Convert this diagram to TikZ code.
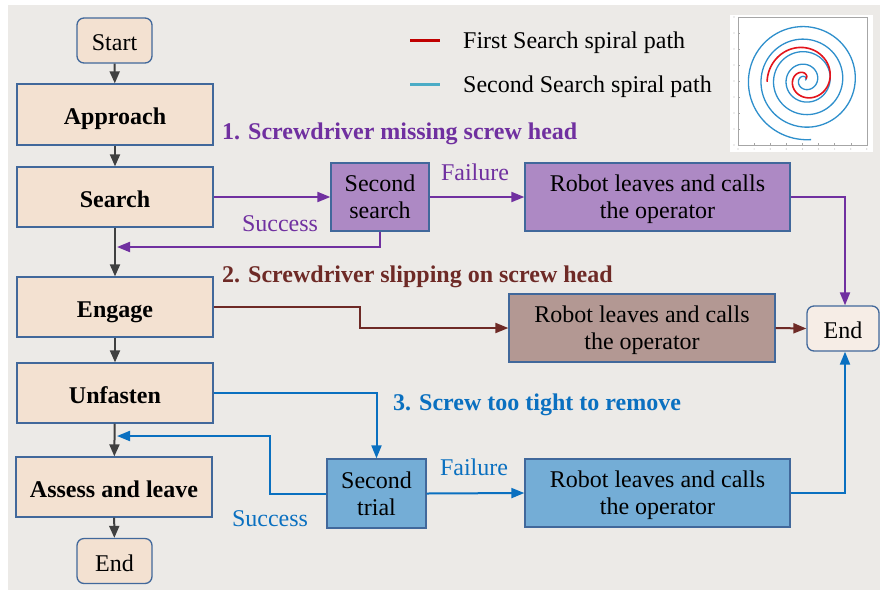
\documentclass[tikz,border=0pt]{standalone}
\usepackage{fontspec}
\setmainfont{Liberation Serif}
\usetikzlibrary{arrows.meta}
\definecolor{bgc}{HTML}{ECEAE7}
\definecolor{peach}{HTML}{F3E1D1}
\definecolor{bordc}{HTML}{41689B}
\definecolor{purfill}{HTML}{AD89C4}
\definecolor{purline}{HTML}{7030A0}
\definecolor{brfill}{HTML}{B39893}
\definecolor{brline}{HTML}{6E2A26}
\definecolor{blfill}{HTML}{74ADD6}
\definecolor{blline}{HTML}{0A70C0}
\definecolor{endfill}{HTML}{F6EDE6}
\definecolor{grayline}{HTML}{404040}
\definecolor{legred}{HTML}{C00000}
\definecolor{legblue}{HTML}{4BACC6}
\definecolor{spblue}{HTML}{2E8FCC}
\definecolor{spred}{HTML}{E3141C}
\begin{document}
\begin{tikzpicture}[x=1pt,y=-1pt,
  every node/.style={font=\fontsize{24}{27}\selectfont, inner sep=0pt, align=center},
  fixl/.style={text height=21.5pt, text depth=5pt},
  fixb/.style={text height=24pt, text depth=4pt},
  multi/.style={text depth=0pt},
  box/.style={draw=bordc, line width=1.3pt, minimum width=#1},
  flowbox/.style={box=196pt, fixb, fill=peach, minimum height=60pt, font=\fontsize{24}{27}\selectfont\bfseries},
  termbox/.style={box=75pt, fixb, fill=peach, minimum height=45pt, rounded corners=7pt},
  garrow/.style={draw=grayline, line width=2pt, -{Triangle[length=12pt,width=10pt]}},
  parrow/.style={draw=purline, line width=2pt, -{Triangle[length=13pt,width=10pt]}},
  brarrow/.style={draw=brline, line width=2pt, -{Triangle[length=13pt,width=10pt]}},
  blarrow/.style={draw=blline, line width=2pt, -{Triangle[length=13pt,width=10pt]}},
  lbl/.style={fixl, font=\fontsize{24}{27}\selectfont\bfseries, anchor=west}
]
\useasboundingbox (0,0) rectangle (880,590);
\fill[white] (0,0) rectangle (880,590);
\fill[bgc] (8,5) rectangle (880,590);

% main column
\node[termbox] (start) at (114.5,40.5) {Start};
\node[flowbox, minimum height=61pt] (approach) at (115,114.5) {Approach};
\node[flowbox] (search) at (115,197) {Search};
\node[flowbox] (engage) at (115,307) {Engage};
\node[flowbox] (unfasten) at (115,393) {Unfasten};
\node[flowbox] (assess) at (114,487) {Assess and leave};
\node[termbox] (endb) at (114.5,561) {End};

\draw[garrow] (start) -- (approach);
\draw[garrow] (approach) -- (search);
\draw[garrow] (search) -- (engage);
\draw[garrow] (engage) -- (unfasten);
\draw[garrow] (unfasten) -- (assess);
\draw[garrow] (assess) -- (endb);

% right end
\node[box=72pt, fixb, fill=endfill, minimum height=45pt, rounded corners=7pt] (endr) at (843,328.5) {End};

% branch 1
\node[lbl, text=purline] (l1) at (222,131) {1. Screwdriver missing screw head};
\node[box=98pt, multi, fill=purfill, minimum height=68pt] (ss) at (380,197) {Second\\search};
\node[box=265pt, multi, fill=purfill, minimum height=68pt] (rp) at (657.5,197) {Robot leaves and calls\\the operator};
\node[fixl, text=purline] (f1) at (475,172) {Failure};
\node[fixl, text=purline] (s1) at (280,223) {Success};
\coordinate (sret) at (117,247);
\draw[parrow] (search.east) -- (ss.west);
\draw[parrow] (ss.east) -- (rp.west);
\draw[parrow] (ss.south) |- (sret);
\draw[parrow] (rp.east) -| ([xshift=2pt]endr.north);

% branch 2
\node[lbl, text=brline] (l2) at (222,274) {2. Screwdriver slipping on screw head};
\node[box=266pt, multi, fill=brfill, minimum height=68pt] (rb) at (642,328) {Robot leaves and calls\\the operator};
\coordinate (bk2) at (360,307);
\draw[brarrow] (engage.east) -- (bk2) |- (rb.west);
\draw[brarrow] (rb.east) -- (endr.west);

% branch 3
\node[lbl, text=blline] (l3) at (393,402) {3. Screw too tight to remove};
\node[box=99pt, multi, fill=blfill, minimum height=69pt] (st) at (376.5,493.5) {Second\\trial};
\node[box=265pt, multi, fill=blfill, minimum height=68pt] (rbl) at (657.5,493) {Robot leaves and calls\\the operator};
\node[fixl, text=blline] (f3) at (474,467) {Failure};
\node[fixl, text=blline] (s3) at (270,518) {Success};
\coordinate (bk3) at (270,436);
\coordinate (uret) at (117,436);
\draw[blarrow] (unfasten.east) -| (st.north);
\draw[blarrow] (st.west) -| (bk3) -- (uret);
\draw[blarrow] (st.east) -- (rbl.west);
\draw[blarrow] (rbl.east) -| ([xshift=2pt]endr.south);

% legend
\coordinate (lr1) at (410,40); \coordinate (lr2) at (440,40);
\coordinate (lb1) at (410,84); \coordinate (lb2) at (440,84);
\draw[legred, line width=3pt] (lr1) -- (lr2);
\draw[legblue, line width=3pt] (lb1) -- (lb2);
\node[fixl, anchor=west] (leg1) at (463,40) {First Search spiral path};
\node[fixl, anchor=west] (leg2) at (463,84) {Second Search spiral path};

% spiral plot
\fill[white] (730,15) rectangle (873,152);
\draw[gray!70, line width=0.5pt] (738,17) rectangle (867,145);
\foreach \i in {0,...,8} {
  \draw[gray!70, line width=0.4pt] ({738+\i*16.1},145) -- ({738+\i*16.1},143);
  \fill[gray!60] ({738+\i*16.1},149) circle (0.6pt);
}
\foreach \i in {0,...,8} {
  \draw[gray!70, line width=0.4pt] (738,{17+\i*16}) -- (740,{17+\i*16});
  \fill[gray!60] (734,{17+\i*16}) circle (0.6pt);
}
\draw[spblue, line width=1.3pt, line join=round] plot[domain=0:29.95, samples=400, smooth] ({805+2*\x*cos(\x r)},{80-2*\x*sin(\x r)});
\draw[spred, line width=1.6pt, line join=round] plot[domain=0.4:9.5, samples=200, smooth] ({805+(4.1*\x-0.9)*cos(\x r)},{79-(4.1*\x-0.9)*sin(\x r)});
\end{tikzpicture}
\end{document}
